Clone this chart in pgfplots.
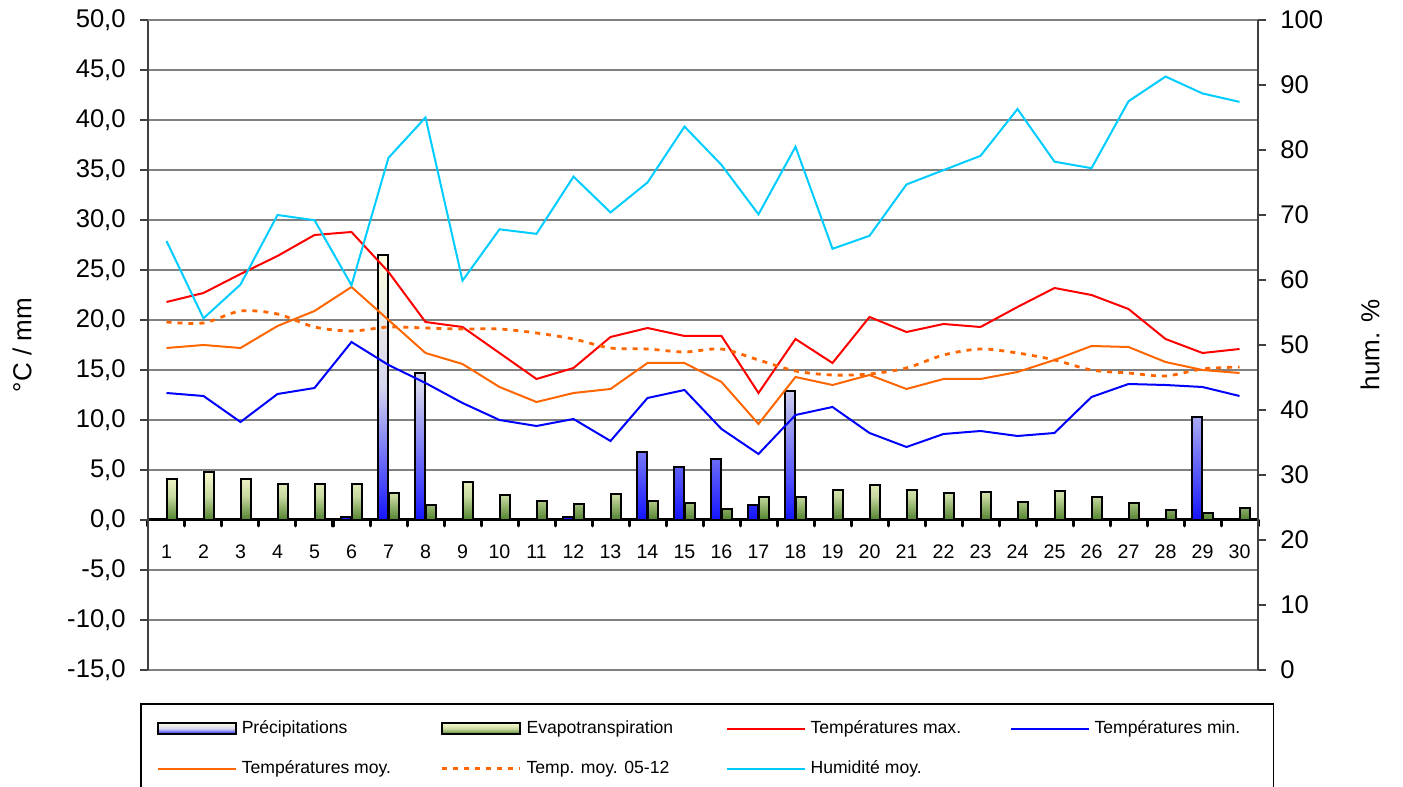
\documentclass[border=0pt]{standalone}
\usepackage{fontspec}
\setmainfont{Liberation Sans}
\usepackage{pgfplots}
\usepackage{pgfplotstable}
\pgfplotsset{compat=1.18}
\definecolor{cmax}{RGB}{255,0,0}
\definecolor{cmin}{RGB}{0,0,255}
\definecolor{cmoy}{RGB}{255,102,0}
\definecolor{chum}{RGB}{0,204,255}
\definecolor{pbot}{RGB}{20,20,255}
\definecolor{ptop}{RGB}{255,255,225}
\definecolor{pmid}{RGB}{212,212,238}
\definecolor{ebot}{RGB}{80,130,45}
\definecolor{etop}{RGB}{250,250,210}
\definecolor{emid}{RGB}{200,218,160}
\definecolor{gridc}{RGB}{128,128,128}
\definecolor{axc}{RGB}{64,64,64}
\pgfplotsset{
  barleg/.style={legend image code/.code={\draw[##1] (0pt,-2.75pt) rectangle (39pt,2.75pt);}},
  lineleg/.style={legend image code/.code={\draw[##1] (0pt,0pt) -- (39pt,0pt);}},
}
\pgfplotstableread{
day evap tmax tmin tmoy tref hum
1 4.1 21.8 12.7 17.2 19.8 66.0
2 4.8 22.7 12.4 17.5 19.7 54.1
3 4.1 24.6 9.8 17.2 20.9 59.3
4 3.6 26.4 12.6 19.4 20.6 70.0
5 3.6 28.5 13.2 20.9 19.3 69.2
6 3.6 28.8 17.8 23.3 18.9 59.2
7 2.7 24.8 15.5 20.0 19.3 78.8
8 1.5 19.8 13.7 16.7 19.2 85.0
9 3.8 19.3 11.7 15.6 19.1 59.9
10 2.5 16.7 10.0 13.3 19.1 67.8
11 1.9 14.1 9.4 11.8 18.7 67.1
12 1.6 15.2 10.1 12.7 18.1 75.9
13 2.6 18.3 7.9 13.1 17.2 70.4
14 1.9 19.2 12.2 15.7 17.1 75.0
15 1.7 18.4 13.0 15.7 16.8 83.6
16 1.1 18.4 9.1 13.8 17.1 77.7
17 2.3 12.7 6.6 9.6 16.0 70.1
18 2.3 18.1 10.5 14.3 14.9 80.5
19 3.0 15.7 11.3 13.5 14.5 64.8
20 3.5 20.3 8.7 14.5 14.6 66.8
21 3.0 18.8 7.3 13.1 15.2 74.7
22 2.7 19.6 8.6 14.1 16.5 76.9
23 2.8 19.3 8.9 14.1 17.1 79.1
24 1.8 21.3 8.4 14.8 16.7 86.3
25 2.9 23.2 8.7 16.0 16.0 78.2
26 2.3 22.5 12.3 17.4 15.0 77.2
27 1.7 21.1 13.6 17.3 14.7 87.5
28 1.0 18.1 13.5 15.8 14.4 91.3
29 0.7 16.7 13.3 15.0 15.1 88.7
30 1.2 17.1 12.4 14.7 15.3 87.4
}\data
\pgfplotstableread{
day prec
6 0.3
7 26.5
8 14.7
9 0.1
12 0.3
14 6.8
15 5.3
16 6.1
17 1.5
18 12.9
23 0.1
25 0.1
28 0.1
29 10.3
30 0.1
}\precdata
\begin{document}
\begin{tikzpicture}[x=1pt,y=1pt]
\useasboundingbox (0,0) rectangle (701.5,393.5);
\begin{axis}[
  at={(74pt,58.5pt)}, anchor=south west,
  scale only axis, width=555pt, height=325pt,
  xmin=0.5, xmax=30.5, ymin=-15, ymax=50,
  ytick distance=5,
  axis x line*=middle, axis y line*=left,
  xtick={1,...,30},
  minor xtick={0.5,1.5,...,30.5},
  major x tick style={draw=none},
  minor x tick style={black, line width=1.5pt, line cap=round},
  minor tick length=3pt,
  major tick length=4pt,
  tick align=outside,
  hide obscured x ticks=false,
  x axis line style={black, line width=1.5pt, -},
  y axis line style={axc, line width=1pt, -},
  ytick style={axc, line width=0.6pt},
  ymajorgrids,
  grid style={gridc, line width=0.6pt},
  /pgf/number format/assume math mode=true,
  yticklabel style={font=\fontsize{12.8}{15}\selectfont, anchor=east, inner sep=0pt, xshift=-7pt,
    /pgf/number format/.cd, fixed, fixed zerofill, precision=1, use comma},
  xticklabel style={font=\fontsize{9.8}{11}\selectfont, anchor=center, inner sep=0pt, yshift=-12pt},
  ylabel={°C / mm},
  ylabel style={at={(axis description cs:-0.1135,0.5)}, anchor=center, font=\fontsize{13}{15}\selectfont},
  lineleg,
  legend columns=4,
  legend cell align=left,
  legend style={at={(axis description cs:-0.0072,-0.0508)}, anchor=north west,
    draw=black, line width=0.75pt, inner xsep=8pt, inner ysep=7pt,
    font=\fontsize{8.8}{10}\selectfont,
    /tikz/every even column/.append style={column sep=18pt},
    /tikz/row sep=9pt, nodes={inner sep=1.5pt}},
]
\addplot[ybar, bar width=5pt, bar shift=-2.6pt, draw=black, line width=1pt,
  top color=ptop, bottom color=pbot, middle color=pmid, barleg]
  table[x=day, y=prec]{\precdata};
\addlegendentry{\makebox[81pt][l]{\hspace{1pt}Précipitations}}
\addplot[ybar, bar width=5pt, bar shift=2.6pt, draw=black, line width=1pt,
  top color=etop, bottom color=ebot, middle color=emid, barleg]
  table[x=day, y=evap]{\data};
\addlegendentry{\makebox[81pt][l]{\hspace{1pt}Evapotranspiration}}
\addplot[cmax, line width=1pt, sharp plot] table[x=day, y=tmax]{\data};
\addlegendentry{\makebox[81pt][l]{\hspace{1pt}Températures max.}}
\addplot[cmin, line width=1pt, sharp plot] table[x=day, y=tmin]{\data};
\addlegendentry{\makebox[81pt][l]{\hspace{1pt}Températures min.}}
\addplot[cmoy, line width=1pt, sharp plot] table[x=day, y=tmoy]{\data};
\addlegendentry{\makebox[81pt][l]{\hspace{1pt}Températures moy.}}
\addplot[cmoy, line width=1.4pt, sharp plot, smooth, dash pattern=on 2.5pt off 3pt] table[x=day, y=tref]{\data};
\addlegendentry{\makebox[81pt][l]{\hspace{1pt}Temp. moy. 05-12}}
\addlegendimage{chum, line width=1pt}
\addlegendentry{\makebox[81pt][l]{\hspace{1pt}Humidité moy.}}
\draw[gridc, line width=1pt] (rel axis cs:0,1) -- (rel axis cs:1,1);
\end{axis}
\begin{axis}[
  at={(74pt,58.5pt)}, anchor=south west,
  scale only axis, width=555pt, height=325pt,
  xmin=0.5, xmax=30.5, ymin=0, ymax=100,
  ytick distance=10,
  axis x line=none, axis y line*=right,
  y axis line style={axc, line width=1pt, -},
  ytick style={axc, line width=0.6pt},
  major tick length=4pt,
  tick align=outside,
  /pgf/number format/assume math mode=true,
  yticklabel style={font=\fontsize{12.8}{15}\selectfont, anchor=west, inner sep=0pt, xshift=7pt},
  ylabel={hum. \%},
  ylabel style={at={(axis description cs:1.1009,0.5)}, anchor=center, rotate=0, font=\fontsize{13}{15}\selectfont},
]
\addplot[chum, line width=1pt, sharp plot] table[x=day, y=hum]{\data};
\end{axis}
\end{tikzpicture}
\end{document}
